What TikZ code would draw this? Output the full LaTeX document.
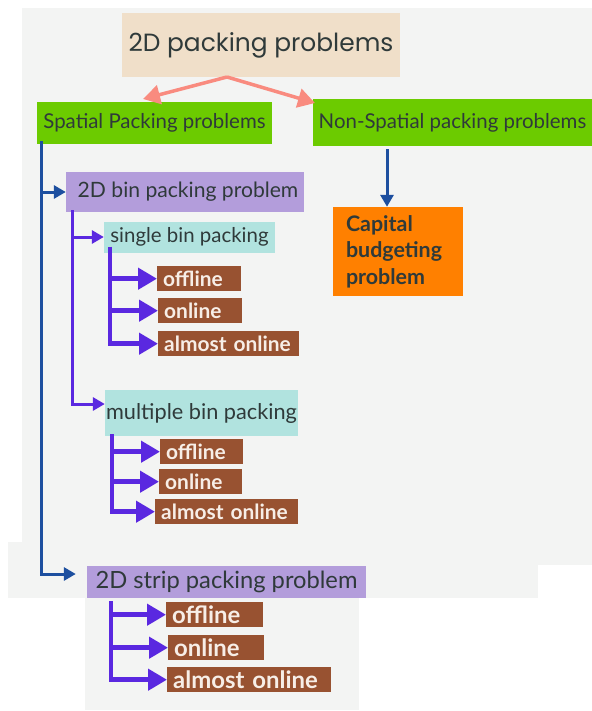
\documentclass[tikz,border=0pt]{standalone}
\usepackage{fontspec}
\setmainfont{Lato}
\newfontfamily\headfont{Poppins}
\usepackage{tikz}
\usetikzlibrary{arrows.meta,positioning}

\definecolor{bgcol}{HTML}{F3F4F3}
\definecolor{inkcol}{HTML}{2F3A3A}
\definecolor{headcol}{HTML}{F0DFC9}
\definecolor{greencol}{HTML}{6CCB00}
\definecolor{lilaccol}{HTML}{B39DDB}
\definecolor{tealcol}{HTML}{B1E3DF}
\definecolor{browncol}{HTML}{985231}
\definecolor{orangecol}{HTML}{FF8000}
\definecolor{bluecol}{HTML}{1D4F9F}
\definecolor{violetcol}{HTML}{5A28E0}
\definecolor{salmoncol}{HTML}{F98B7F}
\definecolor{leaftext}{HTML}{F7EEE7}

\tikzset{
  box/.style={rectangle,inner sep=0pt,text=inkcol,font=\fontsize{20.5}{23}\selectfont},
  headbox/.style={box,fill=headcol,font=\headfont\fontsize{25}{29}\selectfont},
  kindbox/.style={box,fill=greencol},
  probbox/.style={box,fill=lilaccol},
  binbox/.style={box,fill=tealcol},
  capbox/.style={box,fill=orangecol,align=left,inner xsep=13bp,font=\bfseries\fontsize{21.5}{26.5}\selectfont},
  leafbox/.style={box,fill=browncol,text=leaftext,align=left,inner xsep=6bp,
    minimum height=25bp,text width=#1,font=\bfseries\fontsize{21}{23}\selectfont},
  pinkarrow/.style={draw=salmoncol,line width=3.5bp,-{Triangle[length=17bp,width=19bp]}},
  bluetrunk/.style={draw=bluecol,line width=3bp,-{Triangle[length=12bp,width=13bp]}},
  violettrunk/.style={draw=violetcol,line width=3bp,-{Triangle[length=12bp,width=13bp]}},
  leafline/.style={draw=violetcol,line width=4.5bp,-{Triangle[length=19bp,width=21bp]}},
}

\begin{document}
\begin{tikzpicture}[x=1bp,y=-1bp]
  \useasboundingbox (0,0) rectangle (592,711);
  % background
  \fill[bgcol] (22,8) rectangle (592,542);
  \fill[bgcol] (8,542) rectangle (592,565);
  \fill[bgcol] (8,565) rectangle (538,598);
  \fill[bgcol] (85,598) rectangle (359,710);
%%
  % Node: top
  \node[headbox,minimum width=278bp,minimum height=64bp] (top) at (261,45) {2D packing problems};
  % Node: spatial
  \node[kindbox,minimum width=235bp,minimum height=42bp] (spatial) at (154.5,123) {Spatial Packing problems};
  % Node: nonspatial
  \node[kindbox,minimum width=279bp,minimum height=47bp] (nonspatial) at (452.5,122.5) {Non-Spatial packing problems};
  % Node: capital
  \node[capbox,minimum width=130bp,minimum height=89bp,text width=104bp] (capital) at (398,251.5) {Capital\\budgeting\\problem};
  % Node: bin
  \node[probbox,minimum width=238bp,minimum height=40bp,font=\fontsize{21.2}{24}\selectfont] (bin) at (185,192) {\hspace*{6bp}2D bin packing problem};
  % Node: single
  \node[binbox,minimum width=171bp,minimum height=31bp] (single) at (189.5,237) {single bin packing};
  % Nodes: single bin leaves
  \node[leafbox=72bp,anchor=north west] (soff) at (157,266) {offline};
  \node[leafbox=72bp,anchor=north west] (son) at (158,298) {online};
  \node[leafbox=129bp,anchor=north west] (salm) at (158,331) {almost online};
  % Node: multiple
  \node[binbox,minimum width=193bp,minimum height=46bp,font=\fontsize{21.8}{24}\selectfont] (multiple) at (201.5,413) {multiple bin packing};
  % Nodes: multiple bin leaves
  \node[leafbox=71bp,anchor=north west] (moff) at (160,439) {offline};
  \node[leafbox=71bp,anchor=north west] (mon) at (159,469) {online};
  \node[leafbox=131bp,anchor=north west] (malm) at (155,499) {almost online};
  % Node: strip
  \node[probbox,minimum width=279bp,minimum height=32bp,font=\fontsize{23.8}{26}\selectfont] (strip) at (226.5,582) {2D strip packing problem};
  % Nodes: strip leaves
  \tikzset{leafbox/.append style={font=\bfseries\fontsize{24}{26}\selectfont}}
  \node[leafbox=85bp,anchor=north west] (toff) at (166,602) {offline};
  \node[leafbox=84bp,anchor=north west] (ton) at (168,635) {online};
  \node[leafbox=152bp,anchor=north west] (talm) at (167,667) {almost online};
%%
  % Edge: top -> spatial, top -> nonspatial
  \coordinate (apex) at (227,77);
  \draw[pinkarrow] (apex) -- (143,99);
  \draw[pinkarrow] (apex) -- (315,103);
  % Edge: nonspatial -> capital
  \coordinate (capin) at ([xshift=-11bp]capital.north);
  \draw[bluetrunk] (capin |- nonspatial.south) ++(0,3) -- (capin);
  % Edge: spatial -> bin, spatial -> strip
  \coordinate (trunk) at ([xshift=5bp,yshift=3bp]spatial.south west);
  \coordinate (stripin) at ([xshift=-11bp,yshift=8bp]strip.west);
  \draw[bluetrunk] (trunk) |- (stripin);
  \draw[bluetrunk] (trunk |- bin.west) -- (bin.west);
  % Edge: bin -> single, bin -> multiple
  \coordinate (bintrunk) at ([xshift=7bp,yshift=2bp]bin.south west);
  \coordinate (multin) at ([yshift=9bp]multiple.west);
  \draw[violettrunk] (bintrunk) |- (multin);
  \draw[violettrunk] (bintrunk |- single.west) -- (single.west);
  % Edge: single -> leaves
  \coordinate (strunk) at ([xshift=6bp,yshift=6bp]single.south west);
  \draw[leafline] (strunk) |- (salm.west);
  \foreach \leaf in {soff,son}
    \draw[leafline] (strunk |- \leaf.west) -- (\leaf.west);
  % Edge: multiple -> leaves
  \coordinate (mtrunk) at ([xshift=7bp,yshift=2bp]multiple.south west);
  \draw[leafline] (mtrunk) |- (malm.west);
  \foreach \leaf in {moff,mon}
    \draw[leafline] (mtrunk |- \leaf.west) -- (\leaf.west);
  % Edge: strip -> leaves
  \coordinate (ttrunk) at (111,601);
  \draw[leafline] (ttrunk) |- (talm.west);
  \foreach \leaf in {toff,ton}
    \draw[leafline] (ttrunk |- \leaf.west) -- (\leaf.west);
%
\end{tikzpicture}
\end{document}
